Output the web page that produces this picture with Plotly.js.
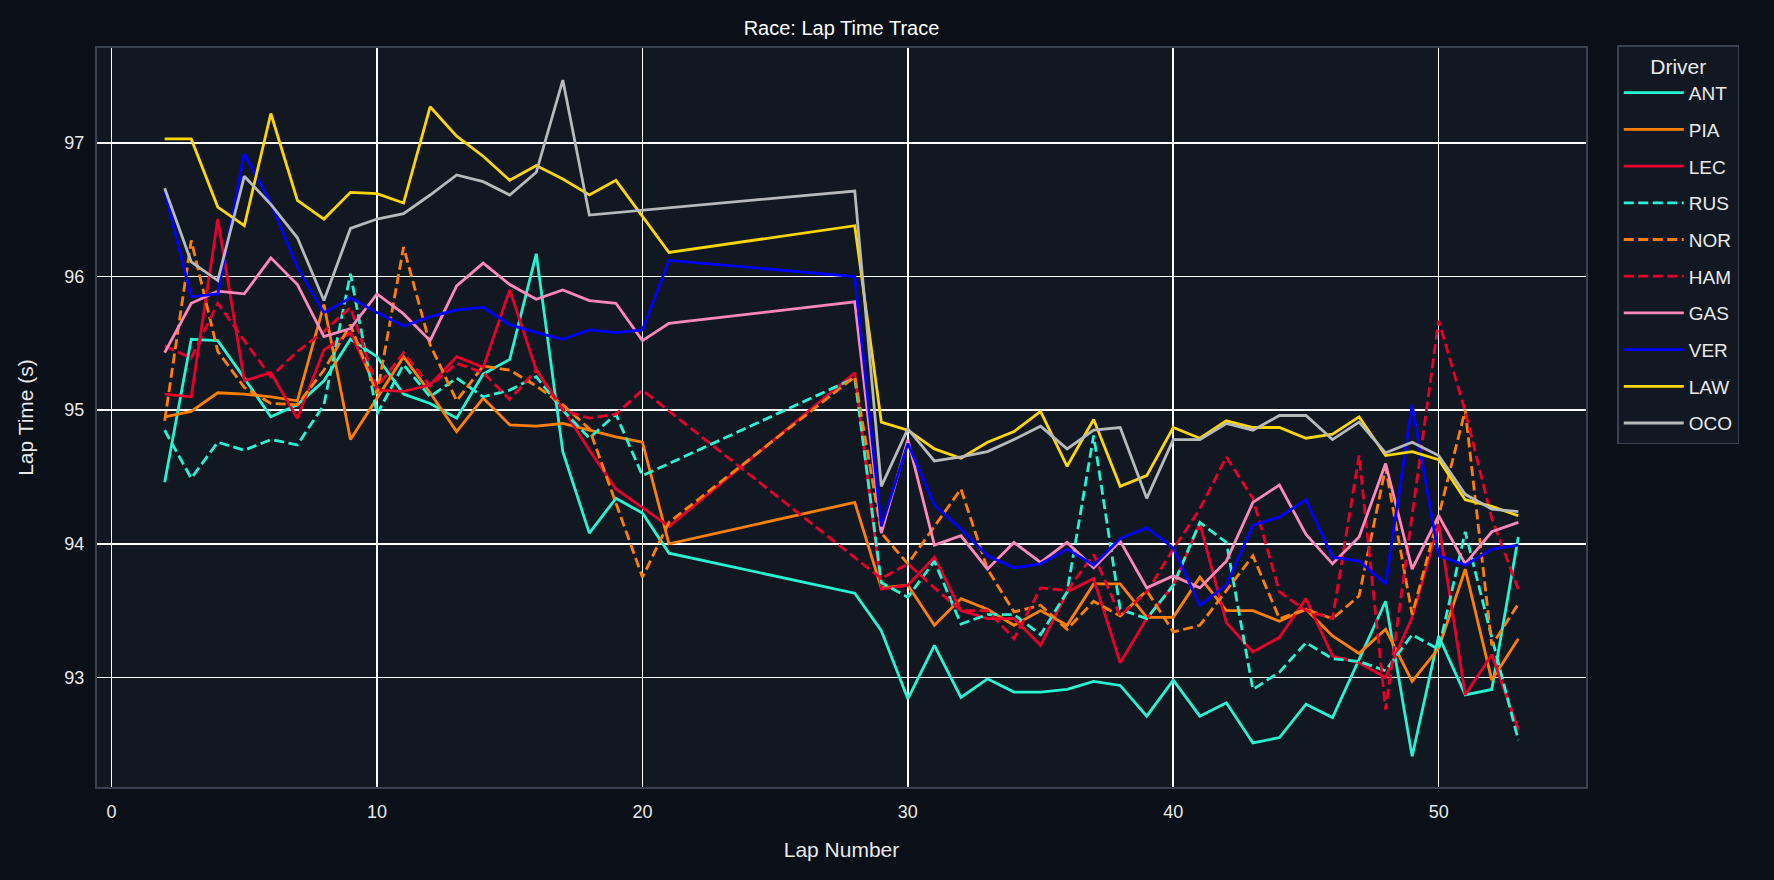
<!DOCTYPE html>
<html>
<head>
<meta charset="utf-8">
<script src="https://cdn.plot.ly/plotly-3.0.1.min.js"></script>
<style>
  html, body { margin: 0; padding: 0; background: #0b0f17; }
  #chart { width: 1774px; height: 880px; }
</style>
</head>
<body>
<div id="chart"></div>
<script>
// lap numbers on the x axis (laps 22-27 have no timed laps, null below)
const laps = [2, 3, 4, 5, 6, 7, 8, 9, 10, 11, 12, 13, 14, 15, 16, 17, 18, 19, 20, 21,
  22, 23, 24, 25, 26, 27,
  28, 29, 30, 31, 32, 33, 34, 35, 36, 37, 38, 39, 40, 41, 42, 43, 44, 45, 46, 47, 48, 49, 50, 51, 52, 53];

const ant = [94.46, 95.53, 95.52, 95.24, 94.95, 95.04, 95.22, 95.53, 95.40, 95.12, 95.05, 94.94, 95.27, 95.38, 96.17, 94.69, 94.08, 94.34, 94.23, 93.93,
  null, null, null, null, null, null,
  93.63, 93.35, 92.84, 93.24, 92.85, 92.99, 92.89, 92.89, 92.91, 92.97, 92.94, 92.71, 92.98, 92.71, 92.81, 92.51, 92.55, 92.80, 92.70, 93.14, 93.57, 92.41, 93.31, 92.87, 92.91, 94.05];

const pia = [94.95, 94.99, 95.13, 95.12, 95.10, 95.07, 95.79, 94.78, 95.09, 95.40, 95.13, 94.84, 95.09, 94.89, 94.88, 94.90, 94.85, 94.80, 94.76, 94.00,
  null, null, null, null, null, null,
  94.31, 93.67, 93.69, 93.39, 93.59, 93.51, 93.39, 93.50, 93.39, 93.70, 93.70, 93.45, 93.45, 93.75, 93.50, 93.50, 93.42, 93.51, 93.31, 93.18, 93.36, 92.97, 93.22, 93.81, 92.98, 93.29];

const lec = [95.12, 95.10, 96.43, 95.22, 95.28, 94.94, 95.45, 95.58, 95.15, 95.14, 95.19, 95.40, 95.32, 95.90, 95.30, 95.01, 94.70, 94.41, 94.27, 94.13,
  null, null, null, null, null, null,
  95.28, 93.66, 93.69, 93.90, 93.50, 93.44, 93.44, 93.24, 93.64, 93.74, 93.11, 93.44, 93.69, 94.15, 93.41, 93.19, 93.30, 93.59, 93.16, 93.11, 93.00, 93.45, 94.15, 92.87, 93.17, 92.61];

const rus = [94.85, 94.49, 94.76, 94.70, 94.78, 94.74, 95.04, 96.02, 94.97, 95.34, 95.10, 95.24, 95.10, 95.15, 95.25, 95.00, 94.79, 94.97, 94.51, 94.60,
  null, null, null, null, null, null,
  95.24, 93.71, 93.60, 93.87, 93.40, 93.47, 93.47, 93.32, 93.64, 94.81, 93.51, 93.44, 93.69, 94.16, 94.01, 92.91, 93.04, 93.26, 93.14, 93.12, 93.05, 93.32, 93.21, 94.09, 93.30, 92.53];

const nor = [94.92, 96.27, 95.44, 95.17, 95.05, 95.04, 95.30, 95.64, 95.12, 96.22, 95.49, 95.07, 95.33, 95.30, 95.18, 95.04, 94.86, 94.31, 93.75, 94.16,
  null, null, null, null, null, null,
  95.25, 94.08, 93.85, 94.13, 94.41, 93.81, 93.49, 93.54, 93.36, 93.57, 93.46, 93.65, 93.34, 93.39, 93.65, 93.91, 93.44, 93.51, 93.44, 93.61, 94.57, 93.47, 94.21, 95.00, 93.24, 93.55];

const ham = [95.48, 95.39, 95.80, 95.52, 95.25, 95.44, 95.59, 95.77, 95.17, 95.43, 95.18, 95.35, 95.28, 95.08, 95.30, 95.00, 94.94, 94.97, 95.15, null,
  null, null, null, null, null, null,
  null, 93.74, 93.85, 93.67, 93.50, 93.50, 93.29, 93.67, 93.65, 93.92, 93.46, 93.64, 93.96, 94.26, 94.65, 94.34, 93.64, 93.50, 93.44, 94.66, 92.76, 94.20, 95.67, 94.99, 94.19, 93.66];

const gas = [95.43, 95.80, 95.89, 95.87, 96.14, 95.94, 95.55, 95.61, 95.87, 95.72, 95.52, 95.93, 96.10, 95.94, 95.83, 95.90, 95.82, 95.80, 95.52, 95.65,
  null, null, null, null, null, null,
  95.81, 94.08, 94.78, 93.99, 94.06, 93.81, 94.01, 93.86, 94.01, 93.82, 94.02, 93.67, 93.76, 93.67, 93.87, 94.31, 94.44, 94.07, 93.85, 94.05, 94.60, 93.81, 94.21, 93.85, 94.09, 94.16];

const ver = [96.64, 95.85, 95.87, 96.92, 96.55, 96.07, 95.73, 95.84, 95.73, 95.63, 95.70, 95.75, 95.77, 95.64, 95.58, 95.53, 95.60, 95.58, 95.60, 96.12,
  null, null, null, null, null, null,
  96.00, 94.13, 94.75, 94.29, 94.11, 93.91, 93.82, 93.85, 93.96, 93.84, 94.04, 94.12, 93.97, 93.54, 93.69, 94.14, 94.20, 94.33, 93.90, 93.87, 93.70, 95.04, 93.91, 93.84, 93.96, 93.99];

const law = [97.03, 97.03, 96.52, 96.38, 97.22, 96.57, 96.43, 96.63, 96.62, 96.55, 97.27, 97.05, 96.90, 96.72, 96.83, 96.73, 96.61, 96.72, 96.45, 96.18,
  null, null, null, null, null, null,
  96.38, 94.91, 94.85, 94.71, 94.64, 94.76, 94.84, 94.99, 94.58, 94.93, 94.43, 94.51, 94.87, 94.79, 94.92, 94.87, 94.87, 94.79, 94.82, 94.95, 94.66, 94.69, 94.63, 94.33, 94.28, 94.21];

const oco = [96.66, 96.11, 95.97, 96.75, 96.54, 96.29, 95.82, 96.36, 96.43, 96.47, 96.61, 96.76, 96.71, 96.61, 96.78, 97.47, 96.46, null, null, null,
  null, null, null, null, null, null,
  96.64, 94.43, 94.86, 94.62, 94.65, 94.69, 94.78, 94.88, 94.71, 94.85, 94.87, 94.34, 94.78, 94.78, 94.90, 94.85, 94.96, 94.96, 94.78, 94.91, 94.68, 94.76, 94.66, 94.37, 94.26, 94.24];

const drivers = ["ANT", "PIA", "LEC", "RUS", "NOR", "HAM", "GAS", "VER", "LAW", "OCO"];
const times = [ant, pia, lec, rus, nor, ham, gas, ver, law, oco];
const colors = ["#27F4D2", "#FF8000", "#E8002D", "#27F4D2", "#FF8000", "#E8002D",
  "#FF87BC", "#0000FF", "#FFD700", "#B6BABD"];
const dashes = ["solid", "solid", "solid", "10px,4.5px", "10px,4.5px", "10px,4.5px",
  "solid", "solid", "solid", "solid"];

const traces = drivers.map(function(name, i) {
  return {
    x: laps,
    y: times[i],
    name: name,
    type: "scatter",
    mode: "lines",
    connectgaps: true,
    legendgroup: name,
    line: { color: colors[i], width: 2.8, dash: dashes[i] }
  };
});

const fontFamily = "Liberation Sans, Arial, sans-serif";
const textColor = "#eaeaea";

const layout = {
  width: 1774,
  height: 880,
  margin: { l: 97, r: 188, t: 48, b: 93, pad: 0 },
  paper_bgcolor: "#0b0f17",
  plot_bgcolor: "#121821",
  font: { family: fontFamily, color: textColor, size: 18 },
  title: {
    text: "Race: Lap Time Trace",
    x: 0.5,
    xref: "paper",
    y: 0.968,
    yanchor: "middle",
    font: { size: 20, color: "#ffffff" }
  },
  xaxis: {
    range: [-0.55, 55.55],
    tickvals: [0, 10, 20, 30, 40, 50],
    showgrid: true,
    gridcolor: "#ffffff",
    gridwidth: 1.6,
    zeroline: false,
    showline: true,
    mirror: true,
    linecolor: "#3a4250",
    linewidth: 2,
    ticks: "outside",
    ticklen: 7,
    tickcolor: "#0b0f17",
    tickfont: { size: 18, color: textColor },
    title: { text: "Lap Number", font: { size: 21, color: textColor }, standoff: 22 }
  },
  yaxis: {
    range: [92.18, 97.71],
    tickvals: [93, 94, 95, 96, 97],
    showgrid: true,
    gridcolor: "#ffffff",
    gridwidth: 1.6,
    zeroline: false,
    showline: true,
    mirror: true,
    linecolor: "#3a4250",
    linewidth: 2,
    ticks: "outside",
    ticklen: 7,
    tickcolor: "#0b0f17",
    tickfont: { size: 18, color: textColor },
    title: { text: "Lap Time (s)", font: { size: 21, color: textColor }, standoff: 25 }
  },
  legend: {
    x: 1.021,
    y: 1.004,
    xanchor: "left",
    yanchor: "top",
    bgcolor: "#121821",
    bordercolor: "#3a4250",
    borderwidth: 1.5,
    font: { size: 19, color: textColor },
    itemwidth: 60,
    entrywidth: 118,
    tracegroupgap: 9,
    title: { text: "Driver", side: "top center", font: { size: 21, color: textColor } }
  },
  showlegend: true
};

Plotly.newPlot("chart", traces, layout, { displayModeBar: false, staticPlot: true });
</script>
</body>
</html>
